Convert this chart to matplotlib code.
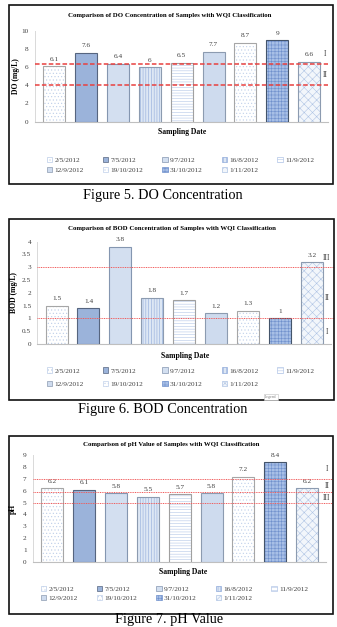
import matplotlib
matplotlib.use('Agg')
import matplotlib.pyplot as plt
import matplotlib.transforms as mtransforms
from matplotlib.patches import Rectangle, Patch

W, H = 337, 627
plt.rcParams['font.family'] = ['Liberation Serif', 'DejaVu Serif']
plt.rcParams['hatch.linewidth'] = 0.4

# ---------------- data ----------------
dates = ['2/5/2012', '7/5/2012', '9/7/2012', '16/8/2012', '11/9/2012',
         '12/9/2012', '19/10/2012', '31/10/2012', '1/11/2012']
do_values = [6.1, 7.6, 6.4, 6, 6.5, 7.7, 8.7, 9, 6.6]
bod_values = [1.5, 1.4, 3.8, 1.8, 1.7, 1.2, 1.3, 1, 3.2]
ph_values = [6.2, 6.1, 5.8, 5.5, 5.7, 5.8, 7.2, 8.4, 6.2]
do_limits = [6.3, 4]
bod_limits = [3, 1]
ph_limits = [7, 5.9, 5]
do_classes = ['I', 'II']
bod_classes = ['III', 'II', 'I']
ph_classes = ['I', 'II', 'III']
do_ticks = [0, 2, 4, 6, 8, 10]
bod_ticks = [0, 0.5, 1, 1.5, 2, 2.5, 3, 3.5, 4]
ph_ticks = [0, 1, 2, 3, 4, 5, 6, 7, 8, 9]

# ---------------- styles ----------------
styles = [
    dict(face='#FFFFFF', hatch='.....', hc='#BCCDE8', edge='#A6A6A6'),
    dict(face='#9BB3DA', hatch=None, hc=None, edge='#56657F'),
    dict(face='#D3DFF0', hatch=None, hc=None, edge='#8496B0'),
    dict(face='#DDE7F4', hatch='||||||', hc='#8FAADA', edge='#8C9BB0'),
    dict(face='#FFFFFF', hatch='------', hc='#B3C6E7', edge='#A0A0A0'),
    dict(face='#CEDBEE', hatch=None, hc=None, edge='#8C9BB0'),
    dict(face='#FFFFFF', hatch='.....', hc='#C0D0EA', edge='#A6A6A6'),
    dict(face='#A7BFE6', hatch='+++++', hc='#6F90CC', edge='#44546A'),
    dict(face='#F2F6FB', hatch='xxxx', hc='#AFC4E4', edge='#8C9BB0'),
]


def px(x):
    return x / W


def py(y):
    return 1 - y / H


def panel(values, ticks, ymax, limits, classes, class_y, ylabel, title,
          caption, box, axpix, line_style, title_xy, xlabel_xy, caption_xy,
          ylabel_x, legend_top, legend_x, legend_spacing, class_x,
          line_ext=1.0):
    x0, x1, ytop, ybot = axpix
    ax = fig.add_axes([px(x0), py(ybot), px(x1 - x0), (ybot - ytop) / H])
    xs = list(range(len(values)))
    for i, v in enumerate(values):
        s = styles[i]
        if s['hatch']:
            ax.bar(xs[i], v, width=0.69, color=s['face'], hatch=s['hatch'],
                   edgecolor=s['hc'], linewidth=0, zorder=3)
            ax.bar(xs[i], v, width=0.69, fill=False, edgecolor=s['edge'],
                   linewidth=0.8, zorder=4)
        else:
            ax.bar(xs[i], v, width=0.69, color=s['face'],
                   edgecolor=s['edge'], linewidth=0.8, zorder=3)
        ax.annotate(f'{v:g}', (xs[i], v), xytext=(0, 3.2),
                    textcoords='offset points', ha='center', va='bottom',
                    fontsize=5.2, color='#404040')
    ax.set_xlim(-0.6, len(values) - 0.4)
    ax.set_ylim(0, ymax)
    ax.set_yticks(ticks)
    ax.set_yticklabels([f'{t:g}' for t in ticks])
    ax.set_xticks([])
    ax.tick_params(axis='y', length=0, pad=4.5, labelsize=5.2,
                   labelcolor='#404040')
    for sp in ['top', 'right']:
        ax.spines[sp].set_visible(False)
    ax.spines['left'].set_color('#D9D9D9')
    ax.spines['left'].set_linewidth(0.7)
    ax.spines['bottom'].set_color('#BFBFBF')
    ax.spines['bottom'].set_linewidth(0.8)
    ax.patch.set_alpha(0)
    for lim in limits:
        ax.axhline(lim, xmin=0, xmax=line_ext, clip_on=False, zorder=5,
                   **line_style)
    tr = mtransforms.blended_transform_factory(ax.transAxes, ax.transData)
    for c, cy in zip(classes, class_y):
        ax.text((class_x - x0) / (x1 - x0), cy, c, transform=tr,
                ha='center', va='center', fontsize=5.5, color='#404040')
    ax.set_ylabel(ylabel, fontsize=5.5, fontweight='bold')
    ax.yaxis.set_label_coords((ylabel_x - x0) / (x1 - x0), 0.5)
    fig.text(px(title_xy[0]), py(title_xy[1]), title, ha='center',
             va='center', fontsize=4.9, fontweight='bold')
    fig.text(px(xlabel_xy[0]), py(xlabel_xy[1]), 'Sampling Date',
             ha='center', va='center', fontsize=5.5, fontweight='bold')
    fig.text(px(caption_xy[0]), py(caption_xy[1]), caption, ha='center',
             va='center', fontsize=10.3)
    bx0, by0, bx1, by1 = box
    fig.add_artist(Rectangle((px(bx0), py(by1)), px(bx1 - bx0),
                             (by1 - by0) / H, transform=fig.transFigure,
                             fill=False, edgecolor='#111111', linewidth=1.2))
    handles = [Patch(facecolor=s['face'], edgecolor=s['hc'] or s['edge'],
                     hatch=s['hatch'], linewidth=0.5) for s in styles]
    order = [0, 5, 1, 6, 2, 7, 3, 8, 4]
    lx0, lx1 = legend_x
    fig.legend([handles[k] for k in order], [dates[k] for k in order],
               loc='upper left',
               bbox_to_anchor=(px(lx0), py(legend_top), px(lx1 - lx0), 0.001),
               mode='expand', ncol=5, frameon=False, fontsize=5.2,
               handlelength=0.75, handleheight=0.75, handletextpad=0.3,
               labelspacing=legend_spacing, borderaxespad=0, borderpad=0,
               labelcolor='#404040')
    return ax


fig = plt.figure(figsize=(W / 100, H / 100), dpi=100)
fig.patch.set_facecolor('white')

thick = dict(color='#E8403F', linestyle=(0, (3, 1.5)), linewidth=1.1)
thin = dict(color='#F05A5A', linestyle=(0, (1, 0.8)), linewidth=0.7)

panel(do_values, do_ticks, 10, do_limits, do_classes, [7.4, 5.1],
      'DO (mg/L)', 'Comparison of DO Concentration of Samples with WQI Classification',
      'Figure 5. DO Concentration', (8.5, 5.5, 333, 184.5),
      (34.9, 328.4, 30.9, 121.5), thick, (170, 16), (182, 132), (163, 195),
      20, 157.5, (47, 314), 0.55, 325)

panel(bod_values, bod_ticks, 4, bod_limits, bod_classes, [3.35, 1.8, 0.47],
      'BOD (mg/L)', 'Comparison of BOD Concentration of Samples with WQI Classification',
      'Figure 6. BOD Concentration', (8.5, 219, 334, 400),
      (37.4, 331, 241.6, 344), thin, (171.7, 229), (185.5, 356), (162.5, 409),
      18, 368, (47, 314), 1.05, 327, line_ext=1.01)

panel(ph_values, ph_ticks, 9, ph_limits, ph_classes, [7.8, 6.4, 5.4],
      'pH', 'Comparison of pH Value of Samples with WQI Classification',
      'Figure 7. pH Value', (8.5, 436, 333, 614),
      (32.9, 326.4, 455.2, 561.7), thin, (171, 444.3), (183, 571.7),
      (169.5, 619.8), 17, 586.5, (41, 308), 0.35, 327, line_ext=1.02)

fig.text(px(271), py(397), 'Legend', ha='center', va='center', fontsize=2.8,
         color='#808080',
         bbox=dict(boxstyle='square,pad=0.3', facecolor='white',
                   edgecolor='#BFBFBF', linewidth=0.4))

fig.savefig('out.png', dpi=100)
